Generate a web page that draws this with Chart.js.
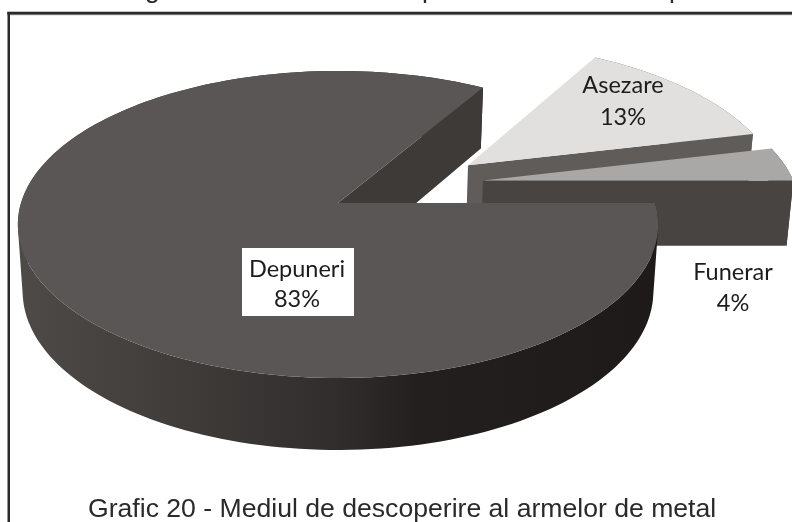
<!DOCTYPE html>
<html>
<head>
<meta charset="utf-8">
<style>html,body{margin:0;padding:0;background:#fff}canvas{display:block}</style>
<script src="https://cdn.jsdelivr.net/npm/chart.js@4"></script>
</head>
<body>
<canvas id="c" width="792" height="522"></canvas>
<script>
const categories = ['Depuneri', 'Asezare', 'Funerar'];
const seriesValues = [83, 13, 4];
const captionText = 'Grafic 20 - Mediul de descoperire al armelor de metal';
const clippedLineGlyphs = ['g', 'p', 'p'];
const topFaceColors = ['#5a5655', '#e1e0df', '#aaa8a6'];
const cutWallColors = ['#3e3a38', '#5f5c5a', '#484442'];
const explodeX = [0, 0.425, 0.467];
const explodeY = [0, -0.26, -0.152];

const VIEW = {cx: 338, cy: 203, R: 317, A: 150.5, B: 0.14, th: 66, thK: 6, shrink: 0.985};
const DEG = Math.PI / 180;
const warp = a => a - 2.4 * DEG * Math.sin(2 * a);
function proj(p, bottom) {
  const X = p[0], Y = p[1], d = 1 - VIEW.B * Y, s = bottom ? VIEW.shrink : 1;
  return {
    x: VIEW.cx + VIEW.R * X / d * s,
    y: VIEW.cy + VIEW.A * Y / d + (bottom ? VIEW.th + VIEW.thK * Y : 0)
  };
}
function rimPoints(i, a0, a1) {
  const n = Math.max(8, Math.ceil((a1 - a0) / (1.5 * DEG))), pts = [];
  for (let k = 0; k <= n; k++) {
    const a = warp(a0 + (a1 - a0) * k / n);
    pts.push([explodeX[i] + Math.cos(a), explodeY[i] + Math.sin(a)]);
  }
  return pts;
}
function addPoly(ctx, pts) {
  pts.forEach((p, k) => k ? ctx.lineTo(p.x, p.y) : ctx.moveTo(p.x, p.y));
  ctx.closePath();
}
function poly(ctx, pts, fill) {
  ctx.beginPath();
  addPoly(ctx, pts);
  ctx.fillStyle = fill;
  ctx.fill();
}
function signedArea(q) {
  let s = 0;
  q.forEach((p, k) => { const n = q[(k + 1) % q.length]; s += p.x * n.y - n.x * p.y; });
  return s;
}
function drawSlice(ctx, arc, i, wallFill) {
  const rim = rimPoints(i, arc.startAngle, arc.endAngle);
  const apex = [explodeX[i], explodeY[i]];
  // outer wall: one path of same-orientation quads, so they join with no seams
  ctx.beginPath();
  for (let k = 0; k < rim.length - 1; k++) {
    const q = [proj(rim[k]), proj(rim[k + 1]), proj(rim[k + 1], true), proj(rim[k], true)];
    addPoly(ctx, signedArea(q) < 0 ? q.reverse() : q);
  }
  ctx.fillStyle = wallFill;
  ctx.fill('nonzero');
  // cut wall at the end of the slice, then the top face
  const e = rim[rim.length - 1];
  poly(ctx, [proj(apex), proj(e), proj(e, true), proj(apex, true)], cutWallColors[i]);
  poly(ctx, [proj(apex)].concat(rim.map(p => proj(p))), arc.options.backgroundColor);
}
const pie3d = {
  id: 'pie3d',
  beforeDatasetsDraw(chart) {
    const ctx = chart.ctx, arcs = chart.getDatasetMeta(0).data;
    ctx.save();
    const g = ctx.createLinearGradient(17, 0, 657, 0);
    g.addColorStop(0, '#4e4a48');
    g.addColorStop(0.24, '#413d3b');
    g.addColorStop(0.5, '#312d2c');
    g.addColorStop(0.63, '#231f1e');
    g.addColorStop(1, '#1d1a19');
    drawSlice(ctx, arcs[1], 1, cutWallColors[1]);
    drawSlice(ctx, arcs[2], 2, cutWallColors[2]);
    drawSlice(ctx, arcs[0], 0, g);
    ctx.restore();
    return false;
  },
  afterDraw(chart) {
    const ctx = chart.ctx;
    ctx.save();
    ctx.textAlign = 'center';
    ctx.textBaseline = 'middle';
    ctx.fillStyle = '#fff';
    ctx.fillRect(242, 248, 112, 68);
    ctx.fillStyle = '#1c1c1c';
    ctx.font = '23.5px Lato, "Open Sans", sans-serif';
    const spots = [[297, 269, 299], [623, 85, 117], [733, 272, 303]];
    categories.forEach((c, i) => {
      ctx.fillText(c, spots[i][0], spots[i][1]);
      ctx.fillText(seriesValues[i] + '%', spots[i][0], spots[i][2]);
    });
    // frame
    ctx.fillStyle = '#b5b5b5';
    ctx.fillRect(7, 11.2, 785, 4.1);
    ctx.fillStyle = '#2b2b2b';
    ctx.fillRect(7.5, 12, 785, 2.5);
    ctx.fillRect(7.5, 12, 2.5, 510);
    // caption and the line cut off above the frame
    ctx.font = '26.6px "Liberation Sans", Arial, sans-serif';
    ctx.textBaseline = 'alphabetic';
    ctx.textAlign = 'left';
    ctx.fillStyle = '#2a2a2a';
    ctx.fillText(captionText, 88, 517);
    const gx = [145, 422, 669];
    clippedLineGlyphs.forEach((t, i) => ctx.fillText(t, gx[i], -2.5));
    ctx.restore();
  }
};
new Chart(document.getElementById('c'), {
  type: 'pie',
  data: {labels: categories, datasets: [{data: seriesValues, backgroundColor: topFaceColors, borderWidth: 0}]},
  options: {
    responsive: false,
    animation: false,
    rotation: 90,
    plugins: {legend: {display: false}, tooltip: {enabled: false}, title: {display: false}}
  },
  plugins: [pie3d]
});
</script>
</body>
</html>
